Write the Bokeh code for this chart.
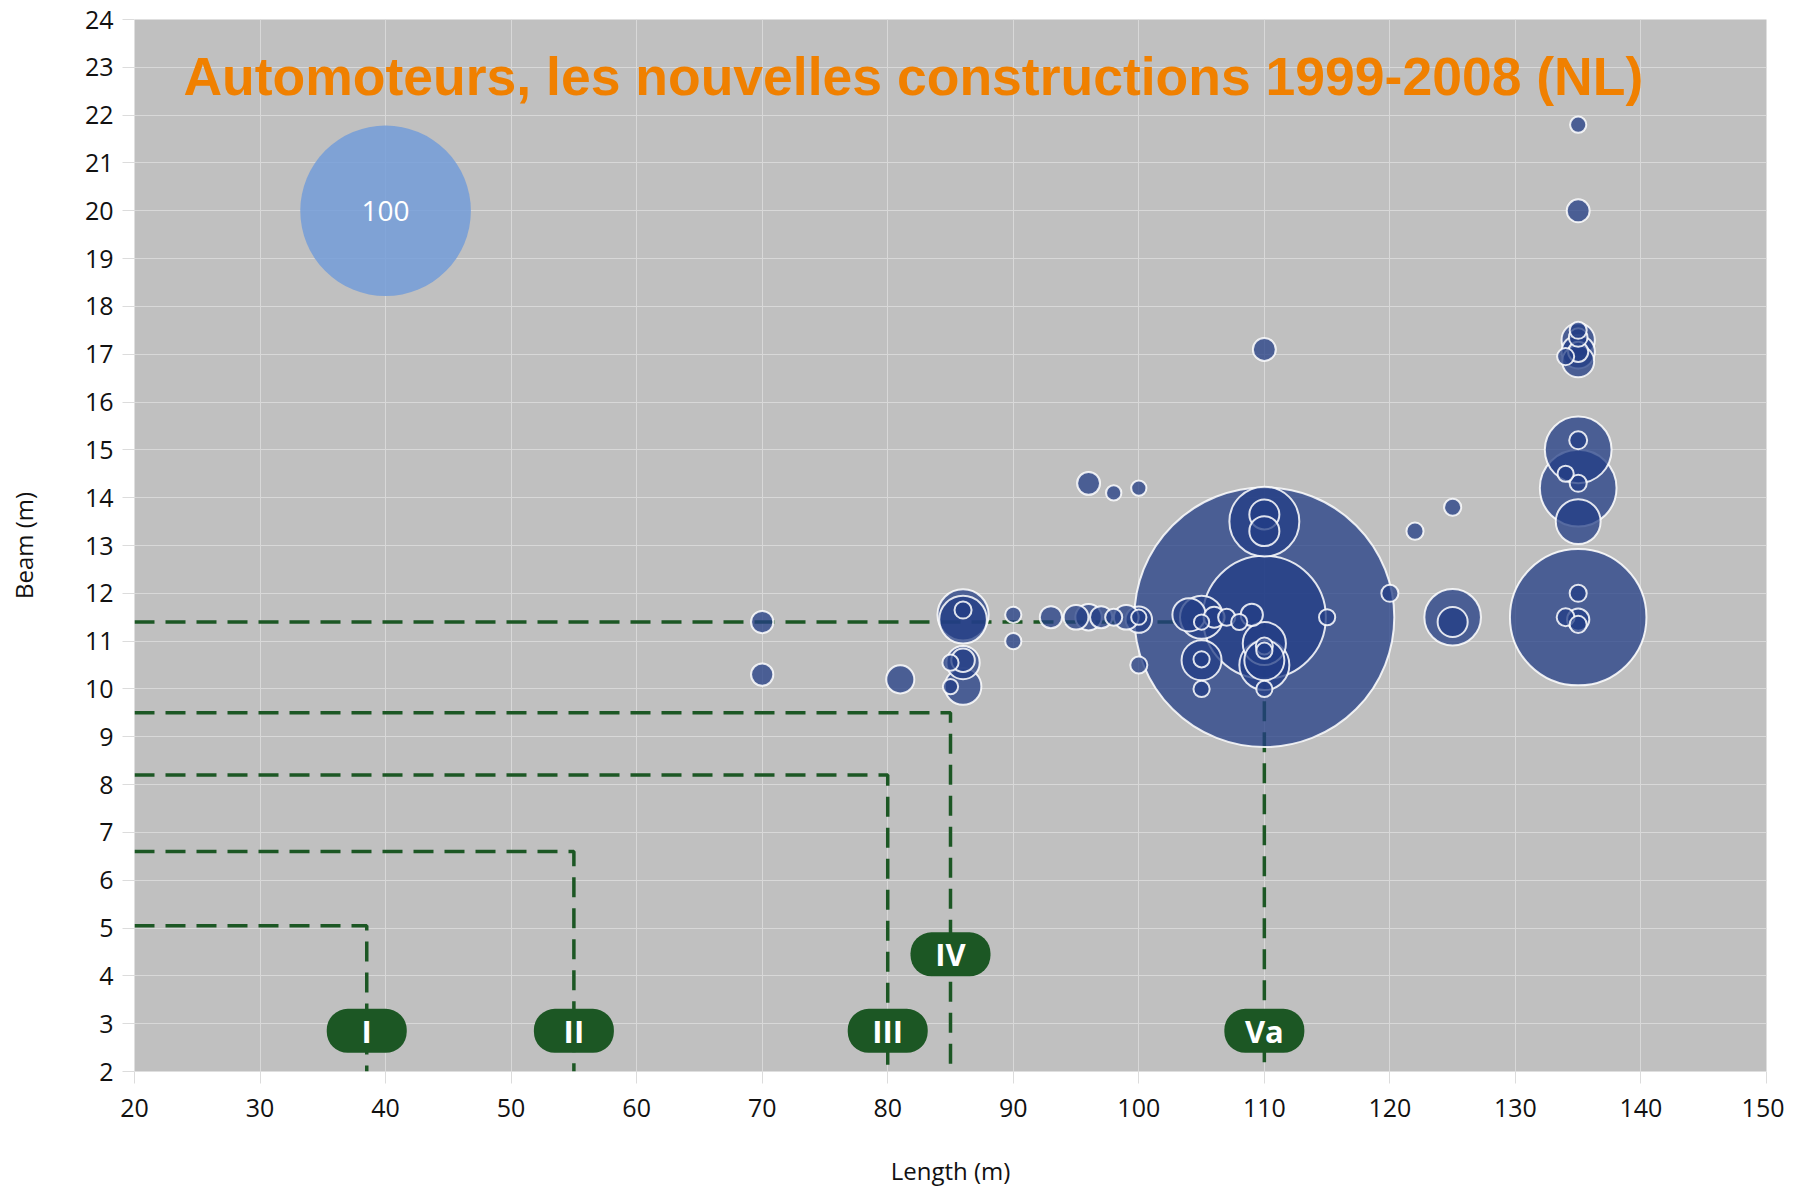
import numpy as np
from bokeh.plotting import figure
from bokeh.models import ColumnDataSource, Label, FixedTicker
from bokeh.core.properties import value
from bokeh.embed import file_html
from bokeh.resources import INLINE

# ---- data: newly built motor vessels 1999-2008 (length m, beam m, count/size value)
lengths = [70, 70, 81, 86, 86, 86, 86, 86, 85, 86, 85, 90, 90, 93, 95, 96, 97, 98, 99,
           100, 100, 100, 96, 98, 100, 104, 105, 105, 106, 107, 108, 109, 110, 110, 110,
           110, 110, 110, 110, 110, 110, 110, 110, 105, 105, 105, 115, 110, 120, 122, 125,
           125, 125, 135, 135, 135, 135, 135, 135, 135, 135, 134, 135, 135, 135, 134, 135,
           135, 135, 135, 134, 135, 135]
beams = [11.4, 10.3, 10.2, 11.55, 11.45, 11.65, 10.55, 10.6, 10.55, 10.05, 10.05, 11.55, 11.0,
         11.5, 11.5, 11.5, 11.5, 11.5, 11.5, 11.45, 11.5, 10.5, 14.3, 14.1, 14.2, 11.55, 11.5,
         11.4, 11.5, 11.5, 11.4, 11.55, 11.5, 11.5, 13.5, 13.65, 13.3, 10.95, 10.9, 10.8, 10.5,
         10.6, 10.0, 10.6, 10.62, 10.0, 11.5, 17.1, 12.0, 13.3, 13.8, 11.5, 11.4, 21.8, 20.0,
         17.3, 17.05, 16.85, 17.5, 17.35, 17.05, 16.95, 15.0, 15.2, 14.2, 14.5, 14.3, 13.5,
         11.5, 12.0, 11.5, 11.45, 11.35]
counts = [1.7, 1.7, 2.7, 9.0, 7.8, 1.0, 3.8, 1.9, 0.9, 4.6, 0.8, 0.9, 0.9, 1.7, 2.1, 2.4, 1.7,
          1.0, 2.1, 2.4, 0.8, 1.0, 1.8, 0.8, 0.8, 3.8, 6.4, 0.8, 1.5, 1.0, 0.9, 1.7, 232, 52,
          16.8, 3.1, 3.1, 6.4, 1.0, 0.9, 8.6, 5.5, 0.9, 5.5, 0.9, 0.9, 0.9, 1.8, 1.0, 1.0, 1.0,
          11, 3.1, 0.9, 1.8, 3.8, 3.8, 3.5, 1.0, 1.2, 1.4, 1.0, 15.3, 1.1, 20.2, 0.9, 1.0, 6.9,
          64, 1.0, 1.1, 1.7, 1.0]

ref_length = [40]
ref_beam = [20]
ref_count = [100]
ref_text = ["100"]

classes = ["I", "II", "III", "IV", "Va"]
class_length = [38.5, 55, 80, 85, 110]
class_beam = [5.05, 6.6, 8.2, 9.5, 11.4]
class_label_y = [2.85, 2.85, 2.85, 4.45, 2.85]

x_ticks = list(range(20, 151, 10))
y_ticks = list(range(2, 25, 1))

title_text = "Automoteurs, les nouvelles constructions 1999-2008 (NL)"

# ---- bubble size scaling (area proportional to value, 100 -> 170 px diameter)
REF_D = 170.6
def diam(v):
    return REF_D * np.sqrt(np.asarray(v, dtype=float) / 100.0)

order = np.argsort(-np.asarray(counts), kind="stable")
src = ColumnDataSource(dict(
    x=np.asarray(lengths, dtype=float)[order],
    y=np.asarray(beams, dtype=float)[order],
    s=diam(counts)[order],
))
ref_src = ColumnDataSource(dict(x=ref_length, y=ref_beam, s=diam(ref_count), t=ref_text))

p = figure(frame_width=1632, frame_height=1052, x_range=(20, 150), y_range=(2, 24),
           output_backend="svg", toolbar_location=None,
           min_border_left=134, min_border_right=18, min_border_top=19, min_border_bottom=117)
p.background_fill_color = "#c0c0c0"
p.border_fill_color = "white"
p.outline_line_color = None

p.xgrid.ticker = FixedTicker(ticks=x_ticks)
p.ygrid.ticker = FixedTicker(ticks=y_ticks)
p.grid.grid_line_color = "#d8d8d8"
p.grid.grid_line_width = 1

for ax in (p.xaxis, p.yaxis):
    ax.axis_line_color = None
    ax.major_tick_line_color = "#dcdcdc"
    ax.major_tick_out = 12
    ax.major_tick_in = 0
    ax.minor_tick_line_color = None
    ax.major_label_text_font = "Open Sans"
    ax.major_label_text_font_size = "25px"
    ax.major_label_text_color = "#111111"
    ax.axis_label_text_font = "Open Sans"
    ax.axis_label_text_font_size = "24px"
    ax.axis_label_text_font_style = "normal"
    ax.axis_label_text_color = "#111111"

p.xaxis.ticker = FixedTicker(ticks=x_ticks)
p.yaxis.ticker = FixedTicker(ticks=y_ticks)
p.xaxis.axis_label = "Length (m)"
p.yaxis.axis_label = "Beam (m)"
p.xaxis.major_label_standoff = 15
p.yaxis.major_label_standoff = 9
p.xaxis.axis_label_standoff = 34
p.yaxis.axis_label_standoff = 42

# ---- CEMT class dashed guides
green = "#1c5724"
xs = [[20, L, L] for L in class_length]
ys = [[B, B, 2] for B in class_beam]
p.multi_line(xs=xs, ys=ys, line_color=green, line_width=3.5, line_dash="20 11")

# ---- bubbles
p.scatter("x", "y", size="s", source=ref_src, fill_color="#6e9ad9", fill_alpha=0.8,
          line_color=None)
p.text("x", "y", text="t", source=ref_src, text_color="white", text_align="center",
       text_baseline="middle", text_font=value("Open Sans"), text_font_size="28px")

p.scatter("x", "y", size="s", source=src, fill_color="#233d85", fill_alpha=0.75,
          line_color="white", line_alpha=0.85, line_width=2)

# ---- class labels
csrc = ColumnDataSource(dict(x=class_length, y=class_label_y, t=classes))
p.rect("x", "y", width=80, height=44, width_units="screen", height_units="screen",
       source=csrc, fill_color=green, line_color=None, border_radius=21)
p.text("x", "y", text="t", source=csrc, text_color="white", text_align="center",
       text_baseline="middle", text_font=value("Open Sans"), text_font_style="bold",
       text_font_size="31px")

# ---- title
p.add_layout(Label(x=23.9, y=23.42, text=title_text, text_color="#f08000",
                   text_font="Liberation Sans", text_font_style="bold",
                   text_font_size="53.5px", text_baseline="top"))

open("out.html", "w").write(file_html(p, INLINE))
